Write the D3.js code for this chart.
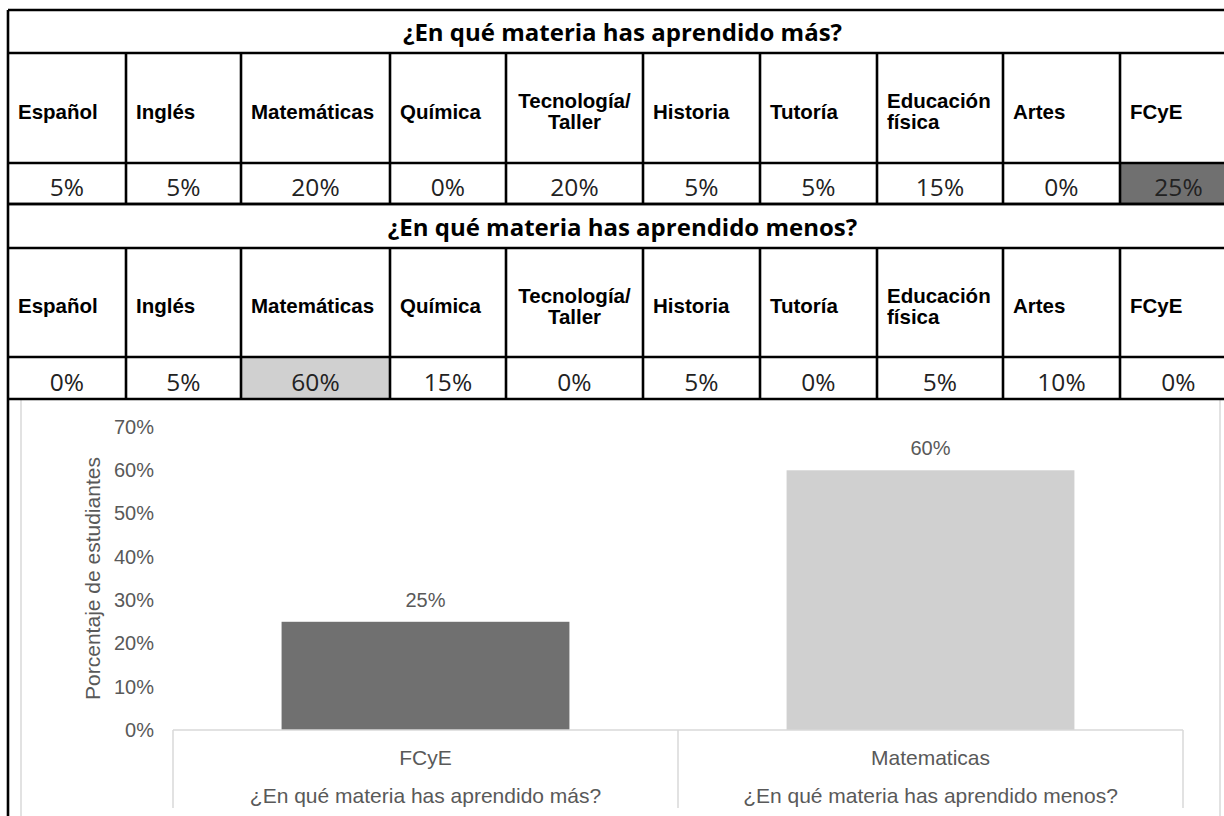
<!DOCTYPE html>
<html>
<head>
<meta charset="utf-8">
<script src="https://cdnjs.cloudflare.com/ajax/libs/d3/7.8.5/d3.min.js"></script>
<style>
  body { margin: 0; background: #fff; }
  svg { display: block; }
</style>
</head>
<body>
<div id="chart"></div>
<script>
// table data
var subjects = [["Español"], ["Inglés"], ["Matemáticas"], ["Química"], ["Tecnología/", "Taller"],
                ["Historia"], ["Tutoría"], ["Educación", "física"], ["Artes"], ["FCyE"]];
var masValues = [5, 5, 20, 0, 20, 5, 5, 15, 0, 25];
var menosValues = [0, 5, 60, 15, 0, 5, 0, 5, 10, 0];
var questions = ["¿En qué materia has aprendido más?", "¿En qué materia has aprendido menos?"];

// chart data
var chartCategories = ["FCyE", "Matematicas"];
var chartValues = [0.25, 0.60];
var yTicks = [0, 0.1, 0.2, 0.3, 0.4, 0.5, 0.6, 0.7];
var yTitle = "Porcentaje de estudiantes";

var width = 1224, height = 816;
var darkGrey = "#707070", lightGrey = "#d0d0d0", textGrey = "#595959";

var svg = d3.select("#chart").append("svg")
    .attr("width", width)
    .attr("height", height);

svg.append("rect").attr("width", width).attr("height", height).attr("fill", "#fff");

// ---- table layout
var colWidths = [118, 115, 149, 116, 137, 117, 117, 126, 117, 117];
var colX = [8];
colWidths.forEach(function(w, i) { colX.push(colX[i] + w); });
var tableLeft = colX[0], tableRight = colX[colX.length - 1];

var blocks = [
    {title: questions[0], values: masValues, top: 10, head: 53, val: 163, bottom: 204, fill: darkGrey},
    {title: questions[1], values: menosValues, top: 204, head: 248, val: 357, bottom: 399, fill: lightGrey}
];

// chart frame (behind the table lines)
svg.append("rect")
    .attr("x", 21).attr("y", 399)
    .attr("width", 1199).attr("height", 440)
    .attr("fill", "#fff")
    .attr("stroke", "#d9d9d9")
    .attr("stroke-width", 1.5);

blocks.forEach(function(b) {
    var maxV = d3.max(b.values);

    // highlight the most voted cell
    svg.append("g").selectAll("rect")
        .data(b.values)
        .enter().append("rect")
        .filter(function(d) { return d === maxV; })
        .attr("x", function(d) { return colX[b.values.indexOf(d)]; })
        .attr("y", b.val)
        .attr("width", function(d) { return colWidths[b.values.indexOf(d)]; })
        .attr("height", b.bottom - b.val)
        .attr("fill", b.fill);

    svg.append("text")
        .attr("x", (tableLeft + tableRight) / 2)
        .attr("y", (b.top + b.head) / 2)
        .attr("text-anchor", "middle")
        .attr("dominant-baseline", "central")
        .style("font-family", "'Open Sans', sans-serif")
        .style("font-weight", "bold")
        .style("font-size", "24px")
        .attr("fill", "#000")
        .text(b.title);

    // subject headers
    var head = svg.append("g").selectAll("text")
        .data(subjects)
        .enter().append("text")
        .style("font-family", "'Liberation Sans', Arial, sans-serif")
        .style("font-weight", "bold")
        .style("font-size", "20.5px")
        .attr("fill", "#000")
        .attr("text-anchor", function(d) { return d[0] === "Tecnología/" ? "middle" : "start"; });

    head.each(function(d, i) {
        var t = d3.select(this);
        var cx = d[0] === "Tecnología/" ? colX[i] + colWidths[i] / 2 : colX[i] + 10;
        var mid = (b.head + b.val) / 2 + 3;
        var lh = 21;
        d.forEach(function(line, k) {
            t.append("tspan")
                .attr("x", cx)
                .attr("y", mid + (k - (d.length - 1) / 2) * lh)
                .attr("dominant-baseline", "central")
                .text(line);
        });
    });

    // values
    svg.append("g").selectAll("text")
        .data(b.values)
        .enter().append("text")
        .attr("x", function(d, i) { return colX[i] + colWidths[i] / 2; })
        .attr("y", (b.val + b.bottom) / 2 + 3)
        .attr("text-anchor", "middle")
        .attr("dominant-baseline", "central")
        .style("font-family", "'Open Sans', sans-serif")
        .style("font-size", "24.5px")
        .attr("fill", "#222")
        .text(function(d) { return d + "%"; });

    // grid lines
    var g = svg.append("g").attr("stroke", "#000").attr("stroke-width", 2.6);
    [b.top, b.head, b.val, b.bottom].forEach(function(yy) {
        g.append("line").attr("x1", tableLeft).attr("x2", tableRight).attr("y1", yy).attr("y2", yy);
    });
    colX.slice(1, -1).forEach(function(xx) {
        g.append("line").attr("x1", xx).attr("x2", xx).attr("y1", b.head).attr("y2", b.bottom);
    });
});

// left border runs down along the chart
svg.append("line")
    .attr("x1", tableLeft).attr("x2", tableLeft)
    .attr("y1", 10).attr("y2", height)
    .attr("stroke", "#000").attr("stroke-width", 2.6);

// ---- chart
var x = d3.scaleBand()
    .domain(questions)
    .range([173, 1183])
    .paddingInner(0.43)
    .paddingOuter(0.215);

var y = d3.scaleLinear()
    .domain([0, 0.7])
    .range([730, 427]);

var chartFont = "'Liberation Sans', Arial, sans-serif";

var yAxis = svg.append("g")
    .attr("transform", "translate(173,0)")
    .call(d3.axisLeft(y).tickValues(yTicks).tickFormat(d3.format(".0%")).tickSize(0).tickPadding(19));
yAxis.select(".domain").remove();
yAxis.selectAll("text")
    .style("font-family", chartFont)
    .style("font-size", "20px")
    .attr("fill", textGrey);

svg.append("text")
    .attr("transform", "translate(92," + ((y(0) + y(0.7)) / 2) + ") rotate(-90)")
    .attr("text-anchor", "middle")
    .attr("dominant-baseline", "central")
    .style("font-family", chartFont)
    .style("font-size", "21px")
    .attr("fill", textGrey)
    .text(yTitle);

var barColors = [darkGrey, lightGrey];

svg.append("g").selectAll("rect")
    .data(chartValues)
    .enter().append("rect")
    .attr("x", function(d, i) { return x(questions[i]); })
    .attr("y", function(d) { return y(d); })
    .attr("width", x.bandwidth())
    .attr("height", function(d) { return y(0) - y(d); })
    .attr("fill", function(d, i) { return barColors[i]; });

svg.append("g").selectAll("text")
    .data(chartValues)
    .enter().append("text")
    .attr("x", function(d, i) { return x(questions[i]) + x.bandwidth() / 2; })
    .attr("y", function(d) { return y(d) - 22; })
    .attr("text-anchor", "middle")
    .attr("dominant-baseline", "central")
    .style("font-family", chartFont)
    .style("font-size", "20px")
    .attr("fill", textGrey)
    .text(function(d) { return d3.format(".0%")(d); });

// category axis with group boxes
var half = (x.step() - x.bandwidth()) / 2;
var axisG = svg.append("g").attr("stroke", "#d9d9d9").attr("stroke-width", 1.5);
axisG.append("line")
    .attr("x1", x.range()[0]).attr("x2", x.range()[1])
    .attr("y1", y(0)).attr("y2", y(0));
var bounds = questions.map(function(q) { return x(q) - half; }).concat([x.range()[1]]);
bounds.forEach(function(bx) {
    axisG.append("line").attr("x1", bx).attr("x2", bx).attr("y1", y(0)).attr("y2", 808);
});

svg.append("g").selectAll("text")
    .data(chartCategories)
    .enter().append("text")
    .attr("x", function(d, i) { return x(questions[i]) + x.bandwidth() / 2; })
    .attr("y", 757)
    .attr("text-anchor", "middle")
    .attr("dominant-baseline", "central")
    .style("font-family", chartFont)
    .style("font-size", "21px")
    .attr("fill", textGrey)
    .text(function(d) { return d; });

svg.append("g").selectAll("text")
    .data(questions)
    .enter().append("text")
    .attr("x", function(d) { return x(d) + x.bandwidth() / 2; })
    .attr("y", 795)
    .attr("text-anchor", "middle")
    .attr("dominant-baseline", "central")
    .style("font-family", chartFont)
    .style("font-size", "21px")
    .attr("fill", textGrey)
    .text(function(d) { return d; });
</script>
</body>
</html>
